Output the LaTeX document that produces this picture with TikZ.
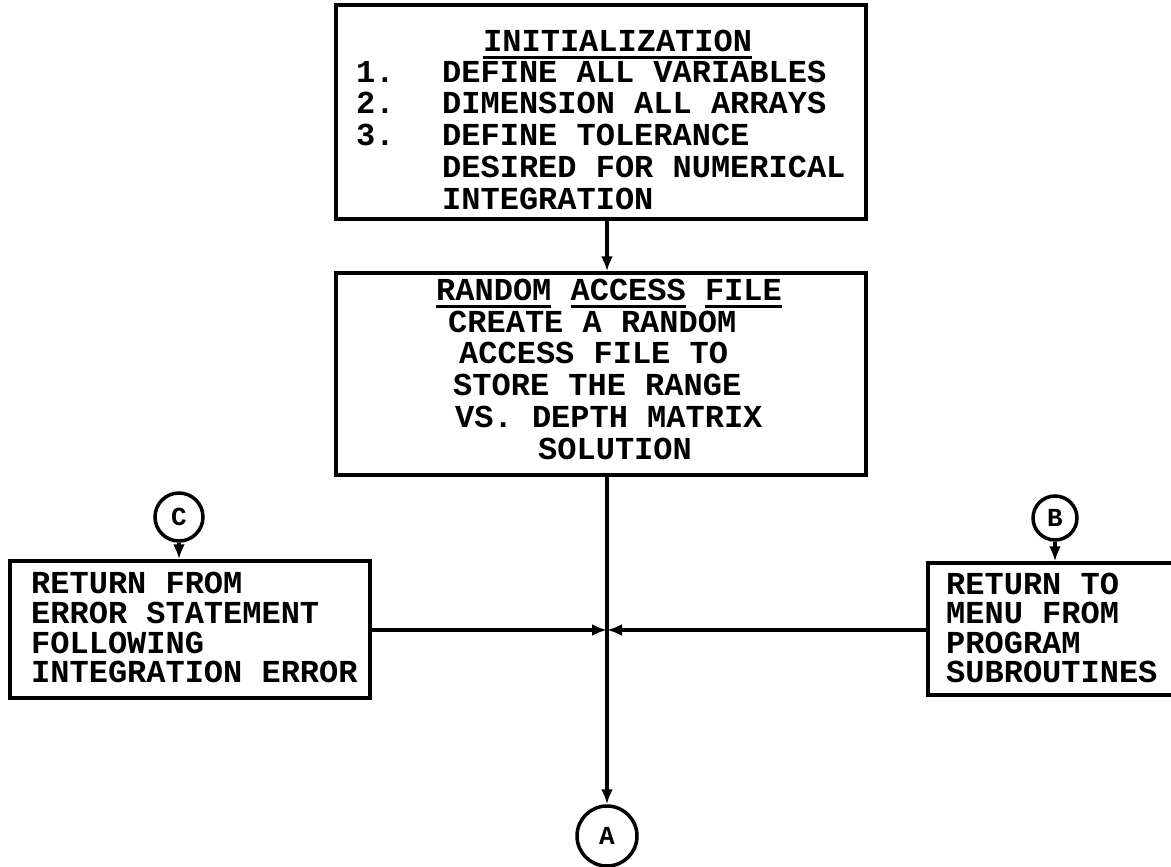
\documentclass[tikz,border=0pt]{standalone}
\usepackage{fontspec}
\setmonofont{Liberation Mono}
\usetikzlibrary{arrows.meta}
\newcommand\myul[1]{\setbox0\hbox{#1}\rlap{\smash{\rule[-7pt]{\wd0}{2.8pt}}}\box0\relax}
\begin{document}
\begin{tikzpicture}[x=1pt,y=-1pt,
  box/.style={draw, line width=3.5pt, inner sep=0pt},
  conn/.style={line width=3.5pt},
  arr/.style={conn, -{Latex[length=15pt,width=12pt]}},
  txt/.style={font=\fontsize{32}{32}\selectfont\ttfamily\bfseries, inner sep=0pt, anchor=west},
  circ/.style={draw, circle, line width=3.5pt, inner sep=0pt, font=\fontsize{26}{26}\selectfont\ttfamily\bfseries}]
\useasboundingbox (0,0) rectangle (1171,867);
% boxes
\node[box, minimum width=530pt, minimum height=214pt] (init) at (601,112) {};
\node[box, minimum width=530pt, minimum height=202pt] (raf) at (601,374) {};
\node[box, minimum width=360pt, minimum height=137pt] (err) at (190,629.5) {};
\node[box, minimum width=270pt, minimum height=132pt] (menu) at (1063,629) {};
% connector circles
\node[circ, minimum size=48pt] (C) at (179,517) {C};
\node[circ, minimum size=44pt] (B) at (1055,518) {B};
\node[circ, minimum size=60pt] (A) at (607,836) {A};
\coordinate (jn) at (607,630);
% texts: initialization
\node[txt] (h1) at (483,41) {\myul{INITIALIZATION}};
\node[txt] (n1) at (356,72) {1.};
\node[txt] (t1) at (442,72) {DEFINE ALL VARIABLES};
\node[txt] (n2) at (356,103) {2.};
\node[txt] (t2) at (442,103) {DIMENSION ALL ARRAYS};
\node[txt] (n3) at (356,135) {3.};
\node[txt] (t3) at (442,135) {DEFINE TOLERANCE};
\node[txt] (t4) at (442,167) {DESIRED FOR NUMERICAL};
\node[txt] (t5) at (442,199) {INTEGRATION};
% random access file
\node[txt] (h2) at (436,290) {\myul{RANDOM} \myul{ACCESS} \myul{FILE}};
\node[txt] (r1) at (448,322) {CREATE A RANDOM};
\node[txt] (r2) at (459,353) {ACCESS FILE TO};
\node[txt] (r3) at (453,385) {STORE THE RANGE};
\node[txt] (r4) at (455,417) {VS. DEPTH MATRIX};
\node[txt] (r5) at (538,449) {SOLUTION};
% error box
\node[txt] (e1) at (31,583) {RETURN FROM};
\node[txt] (e2) at (31,613) {ERROR STATEMENT};
\node[txt] (e3) at (31,643) {FOLLOWING};
\node[txt] (e4) at (31,672) {INTEGRATION ERROR};
% menu box
\node[txt] (m1) at (946,584) {RETURN TO};
\node[txt] (m2) at (946,613) {MENU FROM};
\node[txt] (m3) at (946,643) {PROGRAM};
\node[txt] (m4) at (946,672) {SUBROUTINES};
% connectors
\draw[arr] (init.south -| jn) -- (raf.north -| jn);
\draw[arr] (raf.south -| jn) -- (A.north);
\draw[arr] (err.east |- jn) -- (jn);
\draw[arr] (menu.west |- jn) -- (jn);
\draw[arr] (C.south) -- (C.south |- err.north);
\draw[arr] (B.south) -- (B.south |- menu.north);
\end{tikzpicture}
\end{document}
